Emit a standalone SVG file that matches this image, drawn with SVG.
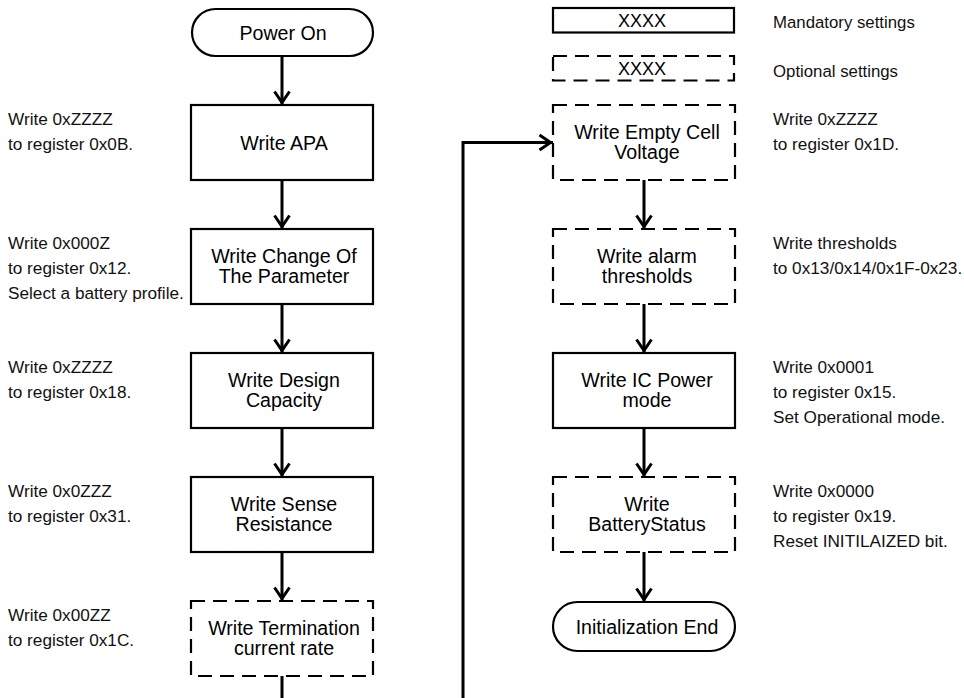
<svg xmlns="http://www.w3.org/2000/svg" width="964" height="698" viewBox="0 0 964 698">
<style>
.box{fill:#fff;stroke:#000;stroke-width:2.2}
.dash{fill:#fff;stroke:#000;stroke-width:2.2;stroke-dasharray:14 8}
.nt{font-family:"Liberation Sans",Arial,sans-serif;font-size:19.6px;fill:#000;text-anchor:middle}
.an{font-family:"Liberation Sans",Arial,sans-serif;font-size:17.2px;fill:#111}
.lt{font-family:"Liberation Sans",Arial,sans-serif;font-size:16.8px;fill:#111}
.lg{font-family:"Liberation Sans",Arial,sans-serif;font-size:18px;fill:#000;text-anchor:middle}
.con{fill:none;stroke:#000;stroke-width:3}
</style>
<defs>
<marker id="arr" markerUnits="userSpaceOnUse" markerWidth="30" markerHeight="30" viewBox="-20 -15 30 30" refX="0" refY="0" orient="auto">
<path d="M-13.5,-7.5 L-2.5,0 L-13.5,7.5" fill="none" stroke="#000" stroke-width="3"/>
</marker>
</defs>
<rect width="964" height="698" fill="#fff"/>

<g id="legend">
<rect class="box" x="553" y="8" width="181" height="24.5"/>
<text class="lg" x="642" y="27">XXXX</text>
<rect class="dash" x="553" y="56" width="181" height="24.5"/>
<text class="lg" x="642" y="75">XXXX</text>
<text class="lt" x="773" y="28">Mandatory settings</text>
<text class="lt" x="773" y="77">Optional settings</text>
</g>

<g id="connectors">
<path class="con" d="M282,56 V105" marker-end="url(#arr)"/>
<path class="con" d="M282,180 V229" marker-end="url(#arr)"/>
<path class="con" d="M282,304 V353" marker-end="url(#arr)"/>
<path class="con" d="M282,428 V477" marker-end="url(#arr)"/>
<path class="con" d="M282,552 V601" marker-end="url(#arr)"/>
<path class="con" d="M282,676 V715 H463 V142.5 H553" marker-end="url(#arr)"/>
<path class="con" d="M644,180 V229" marker-end="url(#arr)"/>
<path class="con" d="M644,304 V353" marker-end="url(#arr)"/>
<path class="con" d="M644,428 V477" marker-end="url(#arr)"/>
<path class="con" d="M644,552 V602" marker-end="url(#arr)"/>
</g>

<g id="power-on">
<rect class="box" x="192" y="9" width="181" height="47" rx="23.5"/>
<text class="nt" x="283" y="39.5">Power On</text>
</g>
<g id="write-apa">
<rect class="box" x="191" y="105" width="182" height="75"/>
<text class="nt" x="284" y="150">Write APA</text>
</g>
<g id="write-change">
<rect class="box" x="191" y="229" width="182" height="75"/>
<text class="nt" x="284" y="263">Write Change Of</text>
<text class="nt" x="284" y="283">The Parameter</text>
</g>
<g id="write-design">
<rect class="box" x="191" y="353" width="182" height="75"/>
<text class="nt" x="284" y="387">Write Design</text>
<text class="nt" x="284" y="407">Capacity</text>
</g>
<g id="write-sense">
<rect class="box" x="191" y="477" width="182" height="75"/>
<text class="nt" x="284" y="511">Write Sense</text>
<text class="nt" x="284" y="531">Resistance</text>
</g>
<g id="write-termination">
<rect class="dash" x="191" y="601" width="182" height="75"/>
<text class="nt" x="284" y="635">Write Termination</text>
<text class="nt" x="284" y="655">current rate</text>
</g>

<g id="write-empty-cell">
<rect class="dash" x="553" y="105" width="182" height="75"/>
<text class="nt" x="647" y="139">Write Empty Cell</text>
<text class="nt" x="647" y="159">Voltage</text>
</g>
<g id="write-alarm">
<rect class="dash" x="553" y="229" width="182" height="75"/>
<text class="nt" x="647" y="263">Write alarm</text>
<text class="nt" x="647" y="283">thresholds</text>
</g>
<g id="write-ic-power">
<rect class="box" x="553" y="353" width="182" height="75"/>
<text class="nt" x="647" y="387">Write IC Power</text>
<text class="nt" x="647" y="407">mode</text>
</g>
<g id="write-battery-status">
<rect class="dash" x="553" y="477" width="182" height="75"/>
<text class="nt" x="647" y="511">Write</text>
<text class="nt" x="647" y="531">BatteryStatus</text>
</g>
<g id="init-end">
<rect class="box" x="553" y="602" width="182" height="49" rx="24.5"/>
<text class="nt" x="647" y="633.5">Initialization End</text>
</g>

<g id="annotations">
<text class="an" x="8" y="125">Write 0xZZZZ</text>
<text class="an" x="8" y="149.5">to register 0x0B.</text>
<text class="an" x="8" y="249">Write 0x000Z</text>
<text class="an" x="8" y="274">to register 0x12.</text>
<text class="an" x="8" y="299">Select a battery profile.</text>
<text class="an" x="8" y="373">Write 0xZZZZ</text>
<text class="an" x="8" y="397.5">to register 0x18.</text>
<text class="an" x="8" y="497">Write 0x0ZZZ</text>
<text class="an" x="8" y="521.5">to register 0x31.</text>
<text class="an" x="8" y="621">Write 0x00ZZ</text>
<text class="an" x="8" y="645.5">to register 0x1C.</text>
<text class="an" x="773" y="125">Write 0xZZZZ</text>
<text class="an" x="773" y="149.5">to register 0x1D.</text>
<text class="an" x="773" y="249">Write thresholds</text>
<text class="an" x="773" y="274">to 0x13/0x14/0x1F-0x23.</text>
<text class="an" x="773" y="373">Write 0x0001</text>
<text class="an" x="773" y="398">to register 0x15.</text>
<text class="an" x="773" y="423">Set Operational mode.</text>
<text class="an" x="773" y="497">Write 0x0000</text>
<text class="an" x="773" y="522">to register 0x19.</text>
<text class="an" x="773" y="547">Reset INITILAIZED bit.</text>
</g>
</svg>
